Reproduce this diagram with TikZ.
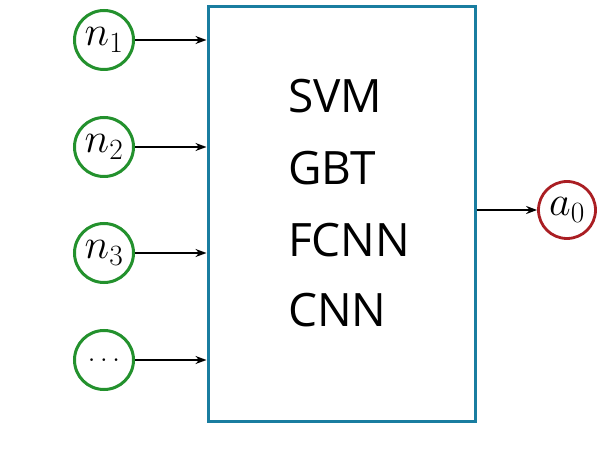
\documentclass[tikz,border=0pt]{standalone}
\usepackage{fix-cm}
\usepackage{fontspec}
\setsansfont{Open Sans}
\usetikzlibrary{arrows.meta}
\definecolor{ingreen}{RGB}{35,145,45}
\definecolor{boxblue}{RGB}{25,125,160}
\definecolor{outred}{RGB}{170,30,35}
\begin{document}
\begin{tikzpicture}[x=1pt,y=1pt,
  inp/.style={circle,draw=ingreen,line width=3pt,minimum size=59pt,inner sep=0pt,font=\fontsize{42}{50}\selectfont},
  outp/.style={circle,draw=outred,line width=2.8pt,minimum size=57pt,inner sep=0pt,font=\fontsize{42}{50}\selectfont},
  model/.style={draw=boxblue,line width=3pt},
  lbl/.style={anchor=base west,inner sep=0pt,font=\sffamily\fontsize{46}{54}\selectfont},
  arr/.style={line width=1.8pt,-{Stealth[length=11pt,width=8pt]}}]
\useasboundingbox (0,0) rectangle (603,469);
\fill[white] (0,0) rectangle (603,469);
\node[model,minimum width=267pt,minimum height=415pt,inner sep=0pt] (box) at (341.5,254.5) {};
\node[inp] (n1) at (104,429) {$n_1$};
\node[inp] (n2) at (104,322) {$n_2$};
\node[inp] (n3) at (104,216) {$n_3$};
\node[inp,font=\fontsize{28}{32}\selectfont] (n4) at (104,109) {$\ldots$};
\node[outp] (a0) at (567,259) {$a_0$};
\node[lbl] (t1) at (288,356) {SVM};
\node[lbl] (t2) at (288,284) {GBT};
\node[lbl] (t3) at (288,212) {FCNN};
\node[lbl] (t4) at (288,142) {CNN};
\foreach \n in {n1,n2,n3,n4}{
  \draw[arr] (\n.east) -- (\n.east -| box.west);
}
\draw[arr] (box.east |- a0.west) -- (a0.west);
\end{tikzpicture}
\end{document}
